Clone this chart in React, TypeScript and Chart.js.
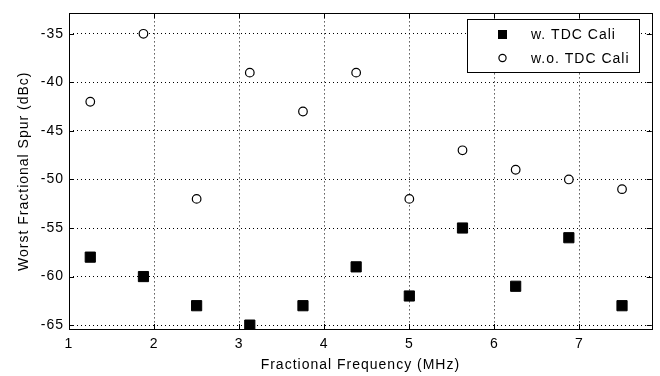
import React, { useEffect, useRef } from "react";
import { Chart, registerables } from "chart.js";

Chart.register(...registerables);

const freqs = [1.25, 1.875, 2.5, 3.125, 3.75, 4.375, 5, 5.625, 6.25, 6.875, 7.5];
const withCali = [-58, -60, -63, -65, -63, -59, -62, -55, -61, -56, -63];
const withoutCali = [-42, -35, -52, -39, -43, -39, -52, -47, -49, -50, -51];
const xTicks = [1, 2, 3, 4, 5, 6, 7];
const yTicks = [-65, -60, -55, -50, -45, -40, -35];
const seriesNames = ["w. TDC Cali", "w.o. TDC Cali"];
const xTitle = "Fractional Frequency (MHz)";
const yTitle = "Worst Fractional Spur (dBc)";

const FONT = "Arial, 'Liberation Sans', Helvetica, sans-serif";

const matlabPlugin = {
  id: "matlab",
  beforeUpdate(chart: any) {
    chart.ctx.letterSpacing = "1px";
  },
  beforeDraw(chart: any) {
    const ctx = chart.ctx;
    ctx.save();
    ctx.fillStyle = "#ffffff";
    ctx.fillRect(0, 0, chart.width, chart.height);
    ctx.restore();
    ctx.letterSpacing = "1px";
  },
  afterDatasetsDraw(chart: any) {
    const ctx = chart.ctx;
    const { left, right, top, bottom } = chart.chartArea;
    const xs = chart.scales.x;
    const ys = chart.scales.y;
    ctx.save();
    ctx.strokeStyle = "#000";
    ctx.lineWidth = 1;
    ctx.setLineDash([]);
    ctx.beginPath();
    for (const v of xTicks) {
      const px = Math.round(xs.getPixelForValue(v)) + 0.5;
      ctx.moveTo(px, bottom);
      ctx.lineTo(px, bottom - 5);
      ctx.moveTo(px, top);
      ctx.lineTo(px, top + 5);
    }
    for (const v of yTicks) {
      const py = Math.round(ys.getPixelForValue(v)) + 0.5;
      ctx.moveTo(left, py);
      ctx.lineTo(left + 5, py);
      ctx.moveTo(right, py);
      ctx.lineTo(right - 5, py);
    }
    ctx.stroke();
    ctx.strokeRect(Math.round(left) + 0.5, Math.round(top) + 0.5, Math.round(right - left), Math.round(bottom - top));

    // legend
    const lx = 467.5, ly = 19.5, lw = 172, lh = 53;
    ctx.fillStyle = "#fff";
    ctx.fillRect(lx, ly, lw, lh);
    ctx.strokeRect(lx, ly, lw, lh);
    ctx.fillStyle = "#000";
    ctx.fillRect(498, 30, 9, 9);
    ctx.beginPath();
    ctx.arc(502.5, 58, 3.6, 0, Math.PI * 2);
    ctx.fillStyle = "#fff";
    ctx.fill();
    ctx.lineWidth = 1.2;
    ctx.stroke();
    ctx.fillStyle = "#000";
    ctx.font = `14px ${FONT}`;
    ctx.letterSpacing = "1px";
    ctx.textBaseline = "middle";
    ctx.textAlign = "left";
    ctx.fillText(seriesNames[0], 531, 35);
    ctx.fillText(seriesNames[1], 531, 59);
    ctx.restore();
  },
};

export default function App() {
  const ref = useRef<HTMLCanvasElement>(null);
  useEffect(() => {
    if (!ref.current) return;
    const chart = new Chart(ref.current, {
      type: "scatter",
      data: {
        datasets: [
          {
            label: seriesNames[0],
            data: freqs.map((x, i) => ({ x, y: withCali[i] })),
            pointStyle: "rect",
            pointRadius: 7.2,
            backgroundColor: "#000",
            borderColor: "#000",
            borderWidth: 1,
          },
          {
            label: seriesNames[1],
            data: freqs.map((x, i) => ({ x, y: withoutCali[i] })),
            pointStyle: "circle",
            pointRadius: 4.3,
            backgroundColor: "#fff",
            borderColor: "#000",
            borderWidth: 1.2,
          },
        ],
      },
      options: {
        responsive: false,
        animation: false,
        events: [],
        layout: { padding: { left: 0, right: 7, top: 5, bottom: 0 } },
        plugins: {
          legend: { display: false },
          tooltip: { enabled: false },
        },
        scales: {
          x: {
            type: "linear",
            min: 1,
            max: 7.85,
            afterBuildTicks: (s: any) => {
              s.ticks = xTicks.map((v) => ({ value: v }));
            },
            afterFit: (s: any) => {
              s.height = 47;
            },
            grid: {
              color: (c: any) => (c.tick && c.tick.value === 1 ? "rgba(0,0,0,0)" : "#000"),
              lineWidth: 1,
              drawTicks: false,
            },
            border: { display: false, dash: [1, 3] },
            ticks: {
              padding: 7,
              color: "#000",
              font: { family: FONT, size: 14 },
              maxRotation: 0,
              autoSkip: false,
            },
            title: {
              display: true,
              text: xTitle,
              color: "#000",
              font: { family: FONT, size: 14 },
              padding: { top: 0, bottom: 2 },
            },
          },
          y: {
            type: "linear",
            min: -65.4,
            max: -32.9,
            afterBuildTicks: (s: any) => {
              s.ticks = yTicks.map((v) => ({ value: v }));
            },
            afterFit: (s: any) => {
              s.width = 69;
            },
            grid: {
              color: "#000",
              lineWidth: 1,
              drawTicks: false,
            },
            border: { display: false, dash: [1, 3] },
            ticks: {
              padding: 5,
              color: "#000",
              font: { family: FONT, size: 14 },
              autoSkip: false,
            },
            title: {
              display: true,
              text: yTitle,
              color: "#000",
              font: { family: FONT, size: 14 },
              padding: { top: 16, bottom: 0 },
            },
          },
        },
      },
      plugins: [matlabPlugin],
    } as any);
    return () => chart.destroy();
  }, []);
  return (
    <div style={{ position: "absolute", left: 0, top: 0, width: 660, height: 376, background: "#fff" }}>
      <canvas ref={ref} width={660} height={376} style={{ display: "block" }} />
    </div>
  );
}
